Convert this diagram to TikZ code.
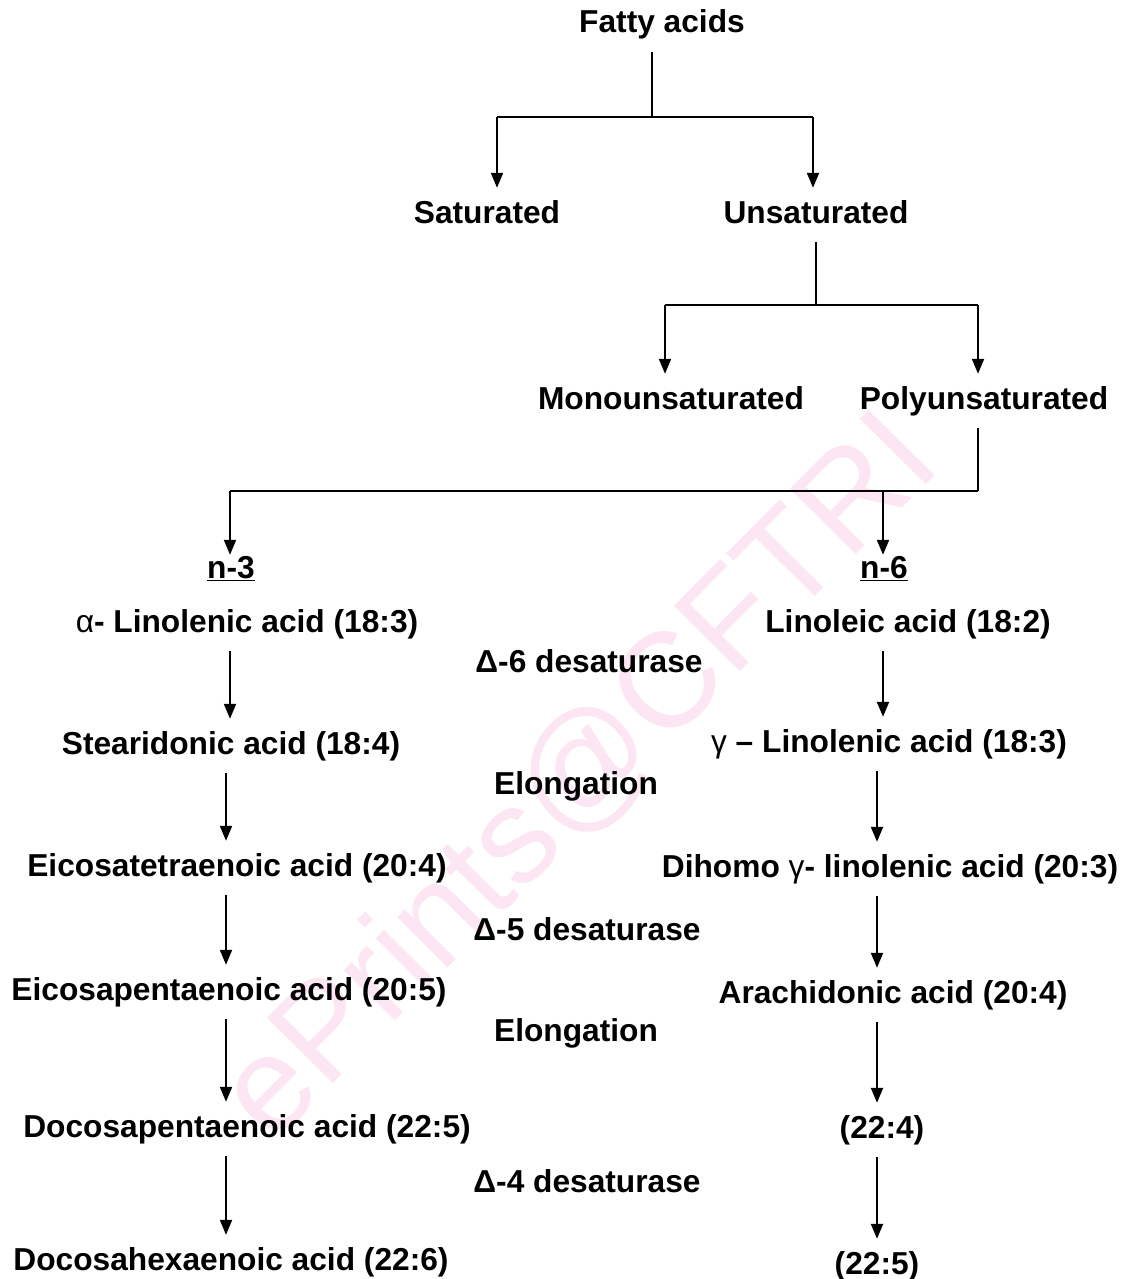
\documentclass[tikz,border=0pt]{standalone}
\usepackage{fontspec}
\setmainfont{Liberation Sans}
\usetikzlibrary{arrows.meta,positioning,calc}

\begin{document}
\begin{tikzpicture}[x=1pt,y=-1pt,
  acid/.style={anchor=base,font=\fontsize{31.7}{36}\selectfont\bfseries,text height=23pt,text depth=7pt,inner xsep=0pt,inner ysep=12pt},
  enzyme/.style={acid},
  edge/.style={line width=2pt,-{Triangle[width=12pt,length=15pt]}},
  branch/.style={line width=1.6pt},
  wmark/.style={font=\fontsize{135}{145}\selectfont,text=magenta!10,rotate=45.3}]
\useasboundingbox (0,0) rectangle (1124,1279);

% watermark
\node[wmark] (wm) at (580,778) {ePrints@CFTRI};

% classification
\node[acid] (fa) at (662,33) {Fatty acids};
\node[acid] (sat) at (487,223) {Saturated};
\node[acid] (uns) at (816,223) {Unsaturated};
\node[acid] (mono) at (671,409) {Monounsaturated};
\node[acid] (poly) at (984,409) {Polyunsaturated};
\node[acid] (n3) at (231,578) {\underline{n-3}};
\node[acid] (n6) at (884,578) {\underline{n-6}};

% n-3 series
\node[acid] (ala) at (247,632) {{\mdseries α}- Linolenic acid (18:3)};
\node[acid] (sda) at (231,754) {Stearidonic acid (18:4)};
\node[acid] (eta) at (237,876) {Eicosatetraenoic acid (20:4)};
\node[acid] (epa) at (229,1000) {Eicosapentaenoic acid (20:5)};
\node[acid] (dpa) at (247,1137) {Docosapentaenoic acid (22:5)};
\node[acid] (dha) at (231,1270) {Docosahexaenoic acid (22:6)};

% n-6 series
\node[acid] (la) at (908,632) {Linoleic acid (18:2)};
\node[acid] (gla) at (889,752) {{\mdseries γ} – Linolenic acid (18:3)};
\node[acid] (dgla) at (890,877) {Dihomo {\mdseries γ}- linolenic acid (20:3)};
\node[acid] (ara) at (893,1003) {Arachidonic acid (20:4)};
\node[acid] (dta) at (882,1138) {(22:4)};
\node[acid] (dpn) at (877,1274) {(22:5)};

% enzymes
\node[enzyme] (d6) at (589,672) {Δ-6 desaturase};
\node[enzyme] (el1) at (576,794) {Elongation};
\node[enzyme] (d5) at (587,940) {Δ-5 desaturase};
\node[enzyme] (el2) at (576,1041) {Elongation};
\node[enzyme] (d4) at (587,1192) {Δ-4 desaturase};

% junctions
\coordinate (j1) at (652,117);
\coordinate (j1l) at (497,117);
\coordinate (j1r) at (813,117);
\coordinate (j2) at (816,305);
\coordinate (j2l) at (665,305);
\coordinate (j2r) at (978,305);
\coordinate (j3) at (978,491);
\coordinate (j3l) at (230,491);
\coordinate (j3r) at (883,491);
\coordinate (lc0) at (230,0);
\coordinate (lc) at (226,0);
\coordinate (rc0) at (883,0);
\coordinate (rc) at (877,0);

\draw[branch] (fa.south -| j1) -- (j1);
\draw[branch] (j1l) -- (j1r);
\draw[edge] (j1l) -- (j1l |- sat.north);
\draw[edge] (j1r) -- (j1r |- uns.north);

\draw[branch] (uns.south -| j2) -- (j2);
\draw[branch] (j2l) -- (j2r);
\draw[edge] (j2l) -- (j2l |- mono.north);
\draw[edge] (j2r) -- (j2r |- poly.north);

\draw[branch] (poly.south -| j3) -- (j3);
\draw[branch] (j3l) -- (j3);
\draw[edge,shorten >=-12pt] (j3l) -- (j3l |- n3.north);
\draw[edge,shorten >=-12pt] (j3r) -- (j3r |- n6.north);

\draw[edge] (ala.south -| lc0) -- (sda.north -| lc0);
\draw[edge] (sda.south -| lc) -- (eta.north -| lc);
\draw[edge] (eta.south -| lc) -- (epa.north -| lc);
\draw[edge] (epa.south -| lc) -- (dpa.north -| lc);
\draw[edge] (dpa.south -| lc) -- (dha.north -| lc);

\draw[edge] (la.south -| rc0) -- (gla.north -| rc0);
\draw[edge] (gla.south -| rc) -- (dgla.north -| rc);
\draw[edge] (dgla.south -| rc) -- (ara.north -| rc);
\draw[edge] (ara.south -| rc) -- (dta.north -| rc);
\draw[edge] (dta.south -| rc) -- (dpn.north -| rc);
\end{tikzpicture}
\end{document}
